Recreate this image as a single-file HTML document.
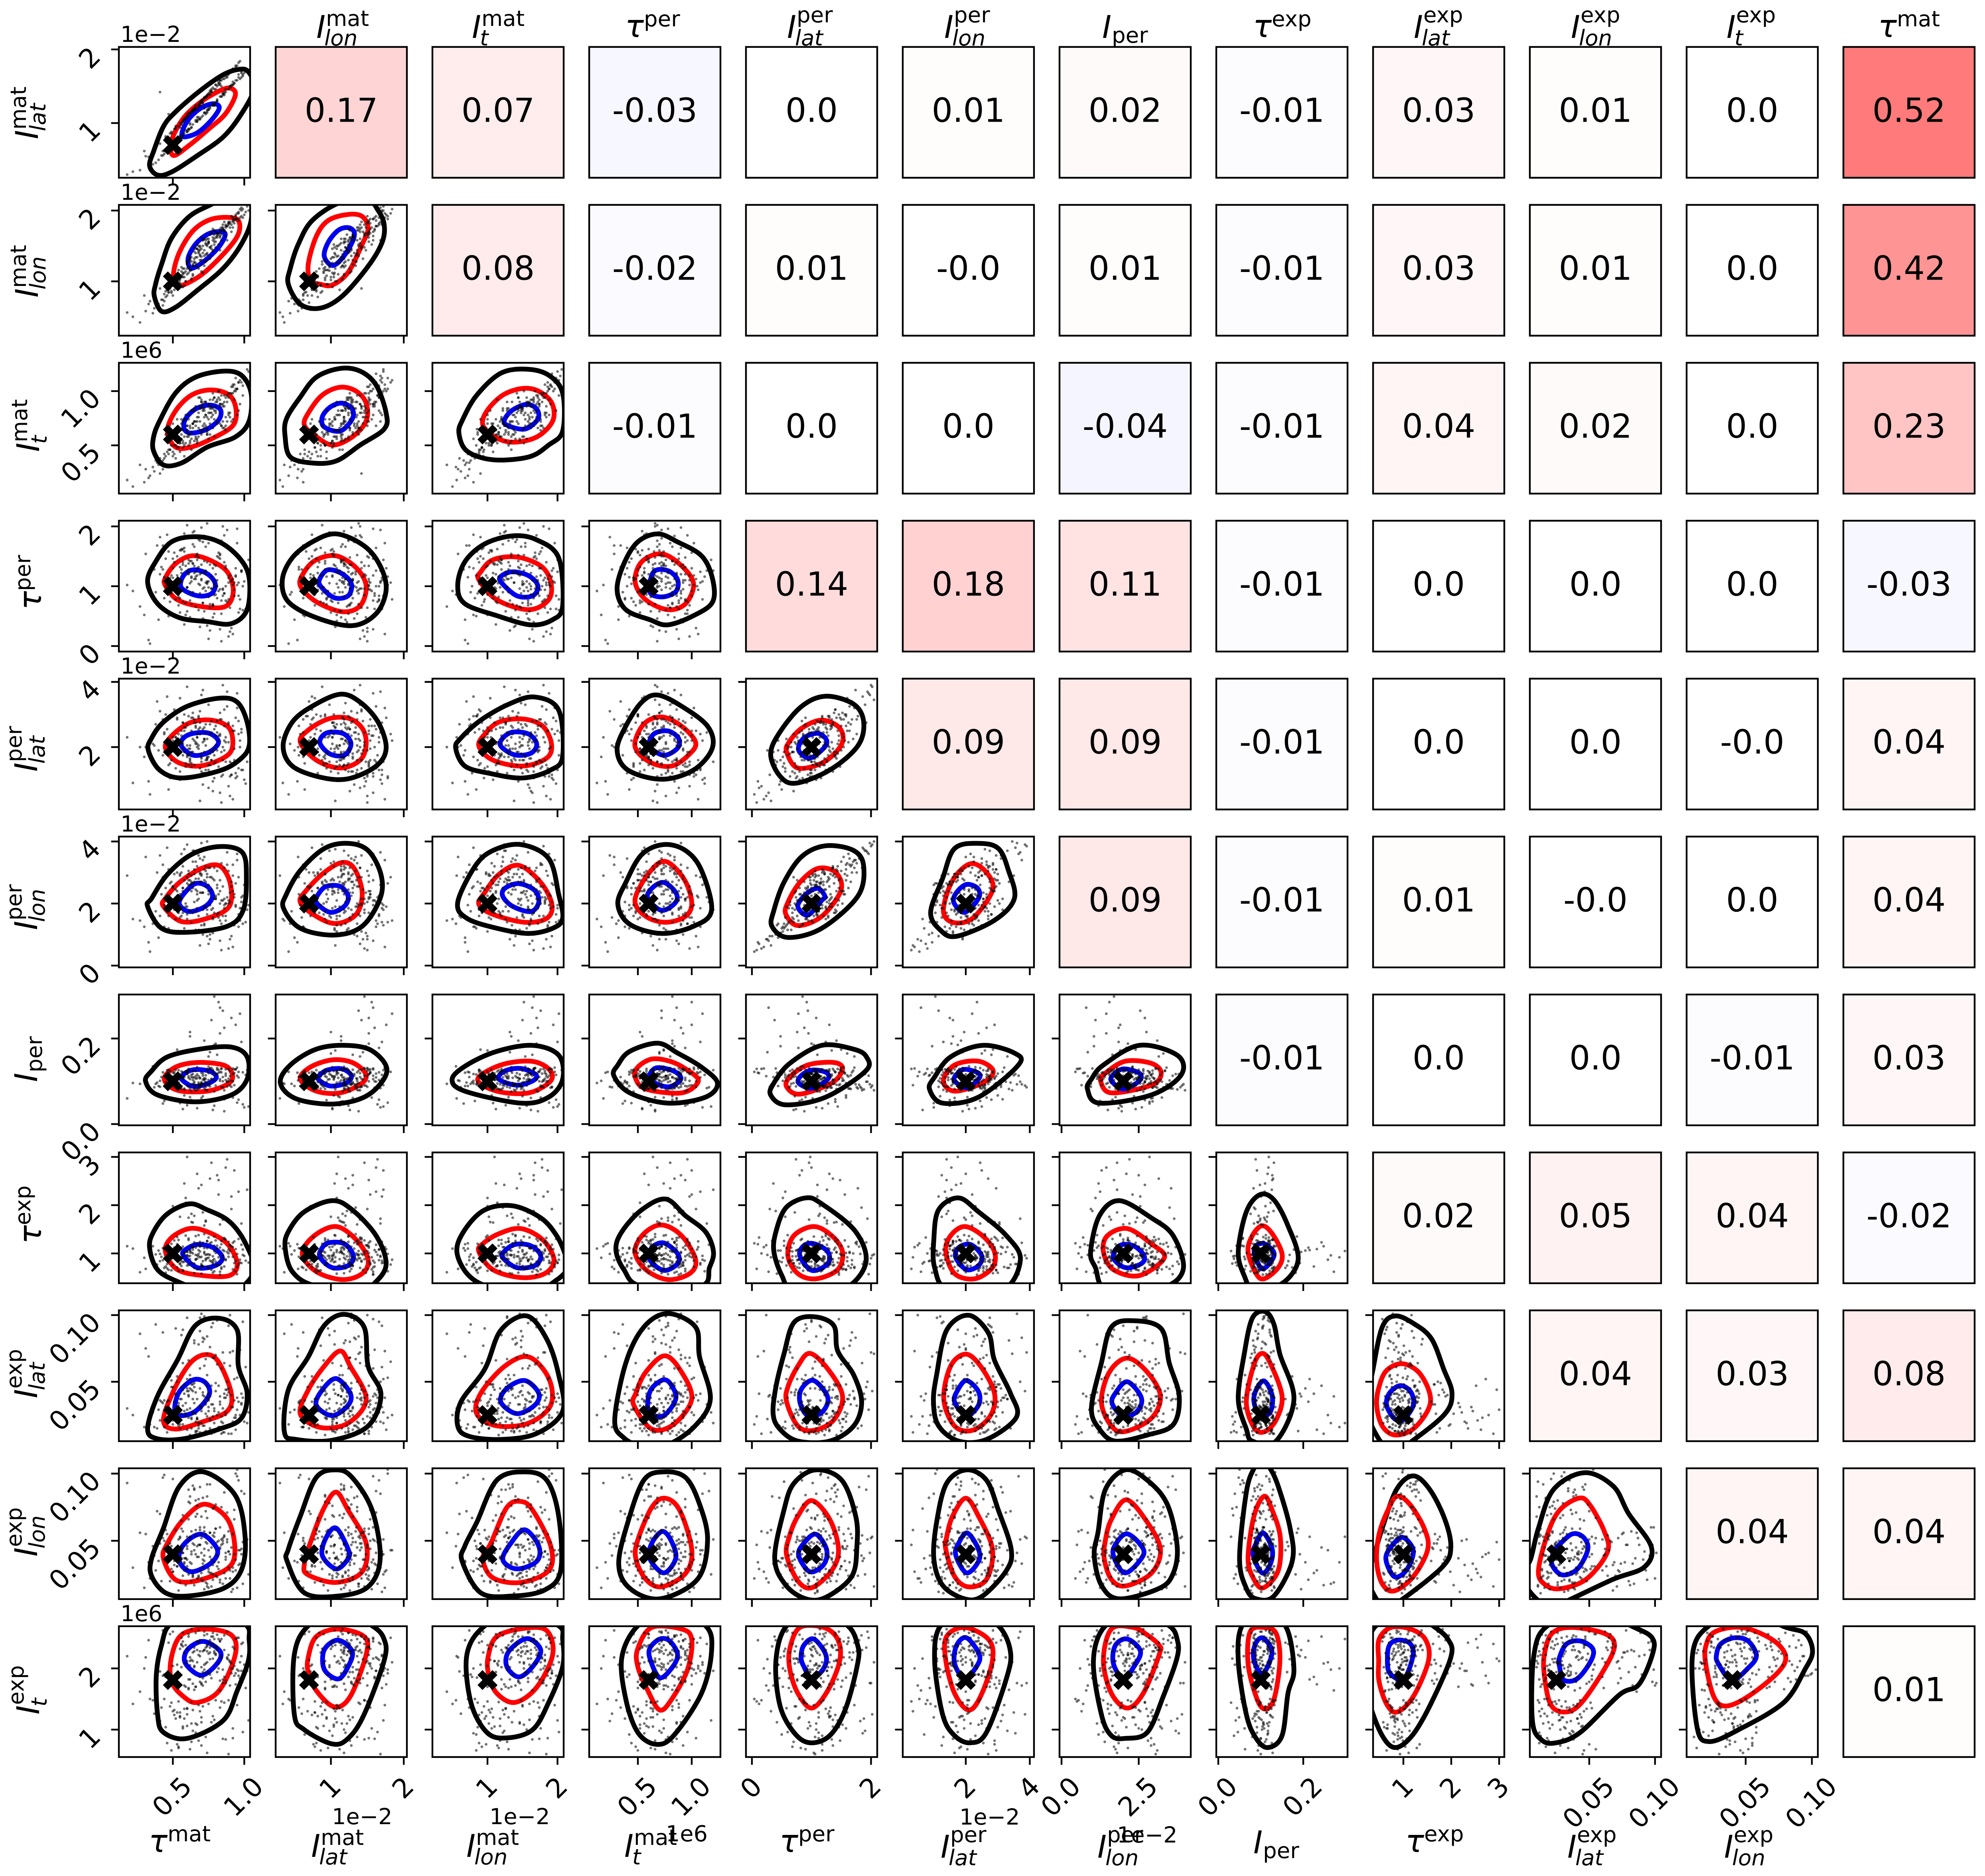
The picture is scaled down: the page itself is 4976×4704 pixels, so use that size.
<!DOCTYPE html>
<html lang="en">
<head>
<meta charset="utf-8">
<title>Posterior pair plot</title>
<style>
html,body{margin:0;padding:0;background:#fff}
svg{display:block}
text{font-family:"DejaVu Sans","Liberation Sans",sans-serif;fill:#000}
</style>
</head>
<body>
<svg id="chart" xmlns="http://www.w3.org/2000/svg" width="4976" height="4704" viewBox="0 0 4976 4704"></svg>
<script>
// Parameters of the grid, index 0..11
const parameterLabels = [
  ['τ','mat',''],['I','mat','lat'],['I','mat','lon'],['I','mat','t'],
  ['τ','per',''],['I','per','lat'],['I','per','lon'],['I','','per'],
  ['τ','exp',''],['I','exp','lat'],['I','exp','lon'],['I','exp','t']
];
const xLimits = [[.122,1.041],[.2415,2.043],[.2137,2.088],[.048,1.2667],[-.1,2.104],[.031,4.131],[-.065,4.186],[-.0047,.3042],[.367,3.108],[.00485,.1046],[.00542,.1045]];
const yLimits = [null,[.257,2.034],[.233,2.08],[.055,1.261],[-.092,2.095],[.087,4.1],[-.058,4.158],[-.0029,.3028],[.382,3.093],[.0054,.10356],[.0066,.10395],[.552,2.689]];
const xTickValues = [[.5,1],[1,2],[1,2],[.5,1],[0,2],[2,4],[0,2.5],[0,.2],[1,2,3],[.05,.1],[.05,.1]];
const xTickLabels = [['0.5','1.0'],['1','2'],['1','2'],['0.5','1.0'],['0','2'],['2','4'],['0.0','2.5'],['0.0','0.2'],['1','2','3'],['0.05','0.10'],['0.05','0.10']];
const yTickValues = [null,[1,2],[1,2],[.5,1],[0,1,2],[2,4],[0,2,4],[0,.2],[1,2,3],[.05,.1],[.05,.1],[1,2]];
const yTickLabels = [null,['1','2'],['1','2'],['0.5','1.0'],['0','1','2'],['2','4'],['0','2','4'],['0.0','0.2'],['1','2','3'],['0.05','0.10'],['0.05','0.10'],['1','2']];
const truthValues = [.5,.7,1,.6,1,2,2,.1,1,.025,.04,1.81];

// Printed correlations, rows 0..10, each row starts at column row+1
const correlationRows = [
  ['0.17','0.07','-0.03','0.0','0.01','0.02','-0.01','0.03','0.01','0.0','0.52'],
  ['0.08','-0.02','0.01','-0.0','0.01','-0.01','0.03','0.01','0.0','0.42'],
  ['-0.01','0.0','0.0','-0.04','-0.01','0.04','0.02','0.0','0.23'],
  ['0.14','0.18','0.11','-0.01','0.0','0.0','0.0','-0.03'],
  ['0.09','0.09','-0.01','0.0','0.0','-0.0','0.04'],
  ['0.09','-0.01','0.01','-0.0','0.0','0.04'],
  ['-0.01','0.0','0.0','-0.01','0.03'],
  ['0.02','0.05','0.04','-0.02'],
  ['0.04','0.03','0.08'],
  ['0.04','0.04'],
  ['0.01']
];

// Posterior samples, one array per parameter
const tauMat = [.62,.71,.55,.83,.47,.90,.66,.74,.58,.95,.69,.41,.78,.63,.86,.52,.73,.60,.99,.68,
.44,.81,.57,.76,.92,.65,.36,.70,.88,.54,.79,.61,.97,.50,.72,.84,.59,.67,.31,.75,
.93,.64,.48,.82,.56,.89,.70,.43,.77,.60,1.01,.66,.53,.85,.74,.39,.91,.63,.80,.57,
.69,.96,.46,.72,.87,.61,.51,.78,.65,.34,.83,.75,.94,.58,.68,.45,.76,.62,.90,.55,
.71,.98,.49,.81,.64,.27,.73,.86,.60,.67,.92,.56,.79,.42,.70,.84,.63,1.03,.52,.74,
.88,.59,.37,.77,.66,.81,.54,.95,.68,.47,.72,.61,.89,.75,.33,.65,.85,.58,.78,.70,
.50,.93,.64,.80,.40,.69,.87,.57,.73,.22,.96,.62,.83,.53,.76,.67,.91,.44,.71,.60,
.98,.55,.79,.86,.48,.74,.63,.18,.82,.69,.77,.93,.56,.68,.84,.61,.72,.99,.65,.51,
.80,.70,.89,.59,.75,.43,.66,1.00,.83,.54,.73,.95,.62,.78,.38,.67,.87,.71,.57,.92,
.64,.76,.49,.85,.69,.97,.60,.74,.82,.52,.90,.68,.79,.46,.72,.94,.63,.86,.56,.77,
.66,.88,.53,.75,.30,.81,.70,.96,.61,.84,.58,.73,.91,.45,.78,.65,1.02,.55,.69,.87,
.74,.50,.83,.62,.94,.71,.41,.79,.67,.89,.57,.76,.98,.64,.85,.47,.72,.92,.60,.80];
const iLatMat = [.98,1.28,.82,1.52,.66,1.50,1.20,1.14,1.05,1.74,1.05,.72,1.48,1.15,1.40,.92,1.12,1.12,1.66,1.26,
.58,1.30,1.04,1.44,1.52,1.20,.44,1.30,1.68,.78,1.26,1.14,1.84,.68,1.35,1.36,1.08,1.02,.55,1.40,
1.54,1.18,.86,1.56,.80,1.70,1.08,.56,1.46,.88,1.70,1.24,.74,1.60,1.38,.70,1.50,.94,1.52,.82,
1.28,1.62,.80,1.14,1.66,.90,.92,1.26,1.20,.42,1.58,1.18,1.76,1.06,1.05,.82,1.20,1.12,1.48,.78,
1.32,1.68,.88,1.30,1.16,.36,1.36,1.42,1.10,1.04,1.74,.82,1.46,.56,1.28,1.36,1.16,1.72,.96,1.18,
1.62,.90,.60,1.42,1.02,1.50,.78,1.78,1.24,.64,1.34,.92,1.66,1.18,.54,1.18,1.40,1.04,1.24,1.30,
.70,1.72,.98,1.52,.50,1.28,1.42,1.02,1.14,.34,1.82,.92,1.58,.76,1.42,1.02,1.70,.62,1.32,.90,
1.62,1.00,1.26,1.60,.64,1.38,.94,.30,1.52,1.06,1.44,1.54,1.00,1.08,1.58,.92,1.34,1.64,1.18,.74,
1.28,1.30,1.46,1.06,1.20,.62,1.22,1.68,1.36,.96,1.34,1.58,1.14,1.24,.46,1.18,1.62,1.10,1.02,1.52,
1.18,1.22,.86,1.38,1.24,1.60,1.08,1.16,1.54,.94,1.50,1.22,1.24,.74,1.14,1.78,1.16,1.38,.98,1.42,
1.04,1.64,.78,1.40,.62,1.32,1.28,1.66,1.10,1.50,.86,1.36,1.52,.80,1.26,1.18,1.72,.94,1.24,1.46,
1.36,.72,1.54,1.00,1.58,1.26,1.42,1.24,1.08,1.68,.84,1.38,1.70,1.16,1.40,1.12,1.20,1.56,.88,1.46];
const iLonMat = [1.15,1.58,.98,1.62,.85,1.82,1.22,1.30,1.12,1.96,1.48,.60,1.44,1.02,1.70,1.05,1.52,1.26,1.90,1.18,
.72,1.66,1.10,1.32,1.84,1.48,.55,1.62,1.58,.92,1.72,1.20,2.02,.80,1.28,1.76,1.00,1.46,.58,1.60,
1.88,1.08,.95,1.52,1.14,1.82,1.35,.66,1.68,1.24,1.98,1.40,.90,1.74,1.50,.70,1.92,1.16,1.56,1.06,
1.36,1.86,.88,1.44,1.80,1.12,1.02,1.62,1.28,.72,1.70,1.54,1.94,1.18,1.40,.78,1.48,1.30,1.76,1.04,
1.58,2.04,.86,1.64,1.22,.42,1.38,1.84,1.10,1.52,1.90,1.08,1.66,.74,1.46,1.72,1.34,2.00,.96,1.60,
1.78,1.14,.62,1.50,1.26,1.68,1.00,1.88,1.42,.84,1.36,1.20,1.82,1.56,.68,1.32,1.74,1.06,1.58,1.30,
.94,1.86,1.24,1.70,.68,1.44,1.76,1.12,1.54,.50,1.96,1.16,1.64,.98,1.48,1.34,1.80,.82,1.40,1.18,
1.92,1.02,1.60,1.72,.90,1.52,1.28,.56,1.66,1.38,1.70,1.82,1.06,1.50,1.58,1.30,1.22,2.02,1.42,.88,
1.62,1.24,1.80,1.00,1.56,.74,1.46,1.94,1.44,1.16,1.28,1.88,1.34,1.74,.76,1.20,1.78,1.50,.92,1.86,
1.10,1.66,.84,1.76,1.30,1.90,1.26,1.38,1.68,.96,1.84,1.44,1.52,.80,1.60,1.92,1.04,1.72,1.20,1.46,
1.34,1.78,.92,1.54,.80,1.62,1.14,1.98,1.36,1.66,.94,1.58,1.70,.86,1.42,1.26,2.06,1.08,1.50,1.64,
1.40,1.00,1.74,1.32,1.88,1.12,.90,1.56,1.46,1.84,1.18,1.36,2.00,1.22,1.80,.88,1.60,1.76,1.28,1.48];
const iTMat = [.68,.88,.52,.92,.65,.80,.72,.60,.74,1.02,.86,.38,.84,.56,.96,.50,.78,.62,1.05,.66,
.42,.90,.64,.70,.98,.82,.30,.86,.72,.48,.94,.58,1.10,.40,.76,.68,.78,.54,.28,.88,
.92,.70,.46,1.00,.60,.78,.90,.36,.80,.68,1.12,.56,.74,.86,.64,.34,1.04,.62,.90,.52,
.72,1.08,.44,.82,.94,.60,.50,.66,.84,.22,.88,.74,1.00,.58,.76,.40,.84,.66,.98,.54,
.68,1.14,.62,.92,.70,.32,.78,.86,.64,.52,1.06,.56,.82,.34,.90,.96,.46,1.18,.60,.76,
.90,.52,.26,.84,.68,.72,.58,1.02,.80,.42,.66,.74,.94,.86,.20,.72,.88,.50,.78,.62,
.44,1.00,.70,.82,.32,.94,.64,.54,.68,.12,1.08,.60,.86,.66,.80,.72,.98,.38,.84,.58,
1.16,.52,.74,.90,.46,.66,.82,.18,.94,.64,.76,1.06,.70,.58,.88,.50,.84,.96,.72,.42,
.80,.60,.98,.74,.56,.28,.86,1.10,.70,.62,.90,.78,.54,.92,.36,.76,.68,.82,.48,1.04,
.66,.92,.50,.72,.84,.88,.64,.60,1.00,.38,.76,.94,.58,.56,.70,1.12,.82,.66,.74,.86,
.58,.96,.48,.80,.16,.70,.92,.82,.78,.68,.40,.90,.72,.60,.98,.54,1.20,.44,.84,.76,
.62,.70,.88,.52,1.02,.64,.24,.94,.56,.80,.72,.60,1.08,.82,.66,.46,.90,.74,.68,.86];
const tauPer = [1.05,.72,1.32,.95,1.58,.64,1.12,1.40,.36,1.72,.88,1.20,.48,1.08,1.85,.90,1.26,.58,1.00,1.48,
1.15,.80,1.36,.26,1.02,1.66,.86,1.22,1.94,.68,1.10,1.44,.78,1.30,.98,1.76,.52,1.18,1.54,.12,
1.06,1.38,.74,.92,1.62,1.14,.42,1.28,.96,2.02,.62,1.24,1.50,.84,1.08,1.68,.30,1.16,1.34,.94,
1.80,.56,1.04,1.42,.76,1.20,1.56,.70,1.12,.04,1.46,.82,1.30,1.88,.60,1.00,1.36,.90,1.18,1.60,
.46,1.26,.88,1.10,1.70,.66,1.06,1.40,.98,1.52,.20,1.22,.85,1.32,1.98,.54,1.14,1.44,.92,1.04,
1.64,.72,1.28,.38,1.16,1.50,.86,1.02,1.78,.50,1.24,1.38,.78,1.08,.10,1.34,.96,1.58,.68,1.12,
1.46,.84,1.90,1.00,.44,1.20,1.30,.74,1.66,.92,1.06,1.42,.28,1.18,.64,1.54,1.10,.80,1.74,.98,
1.26,.56,1.36,.88,1.14,2.05,.70,1.02,1.48,.32,1.16,.94,1.60,1.04,.76,1.28,1.84,.60,1.22,1.40,
.86,1.10,.16,1.34,.98,1.68,.66,1.08,1.52,.82,1.20,1.96,.48,1.30,.90,1.44,1.00,.72,1.62,1.12,
1.38,.40,1.18,.94,1.76,.62,1.24,1.06,1.56,.78,.24,1.32,1.04,1.86,.58,1.16,1.42,.88,1.28,.96,
1.50,.74,1.12,1.72,.52,1.00,1.36,.84,1.22,.08,1.64,.92,1.08,1.46,.68,1.92,1.26,.80,1.02,1.34,
.34,1.14,1.54,.76,1.18,.96,1.82,.54,1.30,1.06,1.40,.70,1.24,.90,2.00,1.10,.44,1.58,.98,1.20];
const iLatPer = [1.55,2.15,1.85,2.40,2.95,1.10,2.60,1.70,1.85,3.20,1.35,2.70,.95,2.50,2.20,2.30,1.60,2.05,1.30,2.90,
2.40,1.25,2.75,1.90,1.45,3.35,2.10,1.65,3.70,1.85,2.55,1.80,2.20,2.95,1.20,2.85,1.40,2.30,2.00,.75,
1.95,3.05,1.05,2.35,2.15,2.75,1.55,1.75,2.45,3.85,.88,2.10,2.85,1.60,2.25,3.40,1.15,1.50,2.65,1.95,
3.10,1.35,2.55,1.85,2.30,1.45,3.00,.65,2.20,.55,2.35,1.70,2.90,2.60,1.95,1.20,2.70,2.05,1.55,3.50,
.85,2.45,1.60,2.80,2.25,2.00,1.30,3.15,1.75,2.40,.40,2.15,1.05,2.65,3.60,1.85,1.40,2.50,2.30,1.65,
3.25,1.50,2.05,1.60,2.75,1.90,2.40,1.10,2.95,.70,2.60,1.75,2.15,1.45,.95,2.85,2.00,3.00,1.25,1.80,
2.20,2.50,3.30,1.55,1.90,2.75,1.35,2.10,2.70,.90,2.40,1.65,.60,2.90,1.80,2.30,1.15,2.45,3.75,1.70,
2.55,1.25,1.95,2.65,1.50,3.45,1.85,2.30,1.40,.35,2.80,1.60,2.50,2.05,1.10,2.95,2.25,1.75,1.45,3.15,
2.35,1.70,.80,2.60,1.30,2.85,2.15,1.00,3.05,1.80,2.45,3.65,1.60,1.90,2.70,2.10,1.55,1.20,2.75,2.50,
1.85,1.45,2.95,1.15,2.40,2.00,2.70,1.65,2.20,1.35,.50,2.55,1.75,3.55,2.25,1.05,2.90,1.90,2.35,1.60,
2.65,1.40,2.10,3.30,1.70,2.45,1.25,2.80,1.95,.30,2.50,2.05,1.50,3.00,1.85,2.75,1.55,1.00,2.60,2.15,
1.60,2.30,2.85,1.95,1.20,2.55,3.10,1.50,2.00,2.70,1.75,2.40,1.30,2.90,3.90,1.45,2.20,2.65,1.10,2.05];
const iLonPer = [2.60,1.80,2.95,1.45,3.10,2.05,1.75,2.85,1.20,3.40,2.35,1.60,1.05,2.90,3.15,1.50,2.70,1.90,2.25,2.80,
1.95,2.50,3.20,.85,2.40,2.70,1.35,2.95,3.65,1.70,2.15,3.05,1.45,2.55,2.75,3.30,1.10,1.85,3.50,.70,
2.30,2.65,1.95,1.55,3.60,2.00,1.30,2.85,1.80,3.90,1.40,2.45,2.40,2.10,1.65,3.00,.95,2.70,2.20,2.50,
3.45,1.25,1.85,3.10,1.60,2.60,2.95,1.50,2.05,.45,2.75,2.30,1.90,3.75,1.15,2.50,3.15,1.75,2.35,2.90,
1.00,2.20,2.70,1.65,3.35,1.45,2.55,2.15,2.85,2.40,.60,3.00,1.70,2.30,3.95,1.35,2.65,1.95,2.45,1.80,
3.25,2.00,1.55,1.10,2.80,3.05,2.25,1.40,3.55,1.20,1.90,2.95,2.10,2.60,.75,3.10,1.60,2.75,1.85,2.35,
2.50,1.30,3.70,2.15,.90,2.70,2.00,2.40,3.20,1.50,2.85,1.75,.80,3.00,1.95,2.30,2.55,1.25,3.40,1.65,
2.05,1.55,3.15,1.85,2.65,4.00,1.40,2.90,1.70,.65,2.45,2.20,3.30,1.60,2.10,2.75,3.50,1.35,2.95,1.80,
2.25,2.70,.55,1.90,2.40,3.25,1.15,2.60,2.00,2.15,3.05,3.60,1.05,2.80,1.75,3.20,1.45,2.35,2.50,2.90,
1.70,1.00,3.10,2.55,3.00,1.85,1.50,2.95,2.30,2.05,.85,2.15,2.75,3.80,1.30,2.65,2.40,1.95,1.60,2.85,
3.35,2.20,1.75,3.15,1.25,2.60,2.90,1.65,2.45,.50,3.45,1.90,2.70,2.10,1.55,3.70,1.80,2.30,2.95,2.00,
.95,2.55,2.40,2.75,1.95,2.35,3.55,1.20,2.10,3.05,1.70,2.85,1.85,2.50,3.85,1.60,1.35,3.25,2.65,2.15];
const lPer = [.105,.118,.085,.212,.096,.124,.091,.052,.110,.132,.088,.101,.182,.115,.079,.127,.098,.044,.121,.093,
.089,.127,.104,.168,.117,.082,.135,.061,.099,.113,.076,.129,.258,.095,.107,.086,.123,.037,.102,.119,
.128,.094,.111,.285,.083,.106,.120,.048,.131,.090,.115,.078,.174,.100,.125,.097,.087,.056,.116,.108,
.092,.109,.126,.195,.103,.087,.118,.033,.095,.122,.105,.134,.232,.081,.112,.098,.129,.063,.090,.114,
.113,.084,.100,.162,.125,.094,.080,.058,.119,.107,.130,.088,.298,.110,.093,.121,.076,.041,.104,.128,
.099,.123,.086,.243,.112,.131,.097,.050,.083,.116,.092,.125,.178,.103,.120,.085,.110,.067,.127,.095,
.120,.091,.117,.188,.089,.108,.128,.035,.114,.096,.122,.082,.272,.106,.088,.133,.101,.054,.093,.118,
.086,.115,.102,.225,.124,.079,.110,.060,.127,.091,.104,.119,.165,.097,.130,.112,.084,.046,.109,.122,
.116,.098,.129,.172,.090,.121,.106,.039,.101,.126,.087,.113,.205,.124,.094,.081,.118,.065,.111,.100,
.103,.130,.093,.265,.107,.085,.125,.053,.120,.098,.112,.089,.185,.117,.102,.128,.092,.030,.123,.106,
.124,.088,.114,.158,.101,.117,.095,.057,.108,.129,.083,.106,.248,.091,.119,.099,.126,.049,.085,.113,
.094,.111,.122,.215,.128,.104,.087,.043,.116,.100,.121,.096,.192,.109,.086,.127,.105,.062,.118,.090];
const tauExp = [.95,1.85,.78,1.12,.66,1.05,.88,1.25,2.45,.72,1.18,.84,.60,1.02,1.30,.91,1.68,.75,1.08,.99,
1.10,2.62,.82,.97,1.22,.70,1.15,.93,1.72,1.04,.63,1.28,.87,.76,1.00,1.19,2.15,.89,.68,1.33,
.80,1.64,1.06,.92,.74,1.24,.58,1.11,2.88,.96,.85,1.36,.71,1.07,.90,.77,1.92,1.16,1.01,.65,
1.14,2.28,.69,1.03,.86,.94,1.27,.79,1.78,1.21,.56,.98,1.09,.83,1.38,.73,2.55,.88,1.17,.92,
.84,1.62,1.20,.75,1.00,.61,.97,1.32,3.00,.67,1.13,.89,1.05,.93,.78,1.26,1.82,.81,.95,1.11,
1.03,2.05,.72,1.23,.87,1.16,.64,.99,2.35,.82,1.40,.76,1.08,.91,1.19,.59,1.70,1.01,.86,.74,
.90,2.72,1.13,.83,1.06,.68,1.29,.94,1.66,1.10,.77,1.02,.62,1.34,.85,.96,2.18,.70,1.22,1.04,
1.18,1.76,.88,.73,1.09,.98,.80,1.15,2.52,.92,.66,1.25,.84,1.07,.71,1.31,1.95,.97,.79,1.12,
.76,2.42,1.00,1.37,.69,.86,1.12,.95,1.60,1.28,.89,.57,1.06,.82,.98,1.20,2.78,.74,1.14,.93,
1.08,1.88,.65,.96,1.24,.81,1.03,.72,2.22,.87,1.17,.94,1.35,.78,1.11,.63,1.65,1.05,.90,.83,
.97,2.95,1.19,.70,.91,1.10,.75,1.30,1.74,.68,1.01,.86,1.15,.60,.94,1.23,2.32,.79,1.04,.88,
1.26,1.98,.77,1.07,.85,.73,.99,1.16,2.65,.93,.64,1.21,.80,1.13,.90,1.02,1.58,.67,.96,1.27];
const iLatExp = [.030,.042,.018,.035,.024,.072,.012,.047,.028,.038,.088,.021,.033,.015,.064,.040,.026,.052,.095,.019,
.036,.014,.044,.022,.031,.081,.027,.010,.050,.017,.068,.039,.025,.046,.099,.020,.034,.013,.075,.041,
.023,.048,.029,.016,.037,.092,.019,.034,.011,.043,.061,.026,.054,.030,.084,.015,.040,.022,.070,.032,
.045,.020,.012,.039,.027,.066,.035,.024,.049,.018,.097,.031,.014,.041,.078,.028,.021,.055,.062,.037,
.017,.033,.051,.025,.043,.086,.013,.038,.029,.022,.073,.046,.019,.035,.101,.011,.044,.027,.090,.024,
.040,.026,.016,.047,.020,.063,.032,.053,.015,.036,.082,.023,.042,.028,.069,.034,.012,.048,.094,.030,
.021,.052,.037,.013,.029,.098,.044,.018,.033,.025,.065,.010,.039,.050,.076,.022,.031,.016,.083,.045,
.034,.015,.028,.041,.054,.071,.023,.030,.047,.012,.091,.036,.026,.019,.060,.043,.017,.038,.079,.027,
.049,.031,.011,.024,.036,.087,.042,.020,.016,.034,.067,.029,.045,.013,.093,.037,.025,.040,.064,.018,
.026,.039,.046,.019,.032,.074,.014,.055,.027,.041,.100,.017,.030,.035,.062,.023,.048,.012,.085,.033,
.013,.044,.022,.037,.016,.096,.028,.035,.040,.024,.077,.050,.011,.031,.068,.046,.019,.029,.060,.038,
.038,.018,.033,.052,.025,.080,.036,.012,.023,.045,.089,.015,.041,.027,.072,.030,.035,.020,.098,.043];
const iLonExp = [.078,.036,.052,.021,.044,.028,.058,.092,.033,.015,.047,.070,.025,.040,.054,.084,.019,.031,.049,.038,
.099,.023,.041,.056,.030,.017,.046,.068,.051,.035,.013,.088,.043,.027,.060,.075,.037,.022,.055,.029,
.066,.048,.020,.034,.059,.042,.026,.097,.016,.053,.039,.080,.031,.050,.018,.072,.045,.057,.024,.041,
.090,.032,.055,.014,.038,.050,.035,.074,.043,.022,.060,.101,.028,.037,.047,.067,.026,.052,.040,.019,
.082,.044,.029,.049,.023,.056,.011,.086,.036,.046,.027,.065,.053,.020,.041,.094,.033,.025,.058,.048,
.071,.017,.039,.045,.054,.031,.051,.103,.024,.037,.057,.079,.042,.015,.034,.089,.048,.028,.021,.052,
.096,.040,.025,.059,.035,.047,.022,.069,.055,.030,.043,.083,.019,.038,.056,.076,.012,.050,.033,.044,
.087,.053,.034,.026,.048,.016,.042,.093,.029,.058,.036,.073,.046,.023,.051,.066,.039,.018,.047,.032,
.077,.021,.057,.037,.027,.052,.040,.085,.045,.013,.049,.098,.034,.054,.028,.070,.041,.030,.024,.055,
.091,.038,.046,.018,.060,.033,.029,.067,.050,.041,.022,.081,.056,.035,.044,.100,.020,.053,.037,.026,
.068,.049,.031,.043,.015,.039,.055,.095,.025,.047,.034,.072,.017,.058,.032,.088,.051,.042,.028,.036,
.083,.027,.044,.053,.036,.020,.048,.075,.038,.030,.057,.092,.040,.024,.052,.069,.035,.014,.046,.059];
const iTExp = [2.05,2.28,1.22,2.45,1.85,2.12,.95,2.38,1.72,1.40,2.20,1.95,2.52,1.10,2.30,1.78,2.08,1.35,2.42,.82,
1.90,2.55,1.05,2.15,2.35,1.65,1.48,2.02,2.60,.72,2.25,1.82,2.10,1.30,1.98,2.48,1.70,.90,2.18,1.42,
2.32,1.75,1.38,2.00,2.50,2.22,1.12,1.88,2.40,1.25,1.68,2.58,2.06,.85,2.28,2.14,1.92,1.45,2.36,1.02,
2.46,1.96,.78,2.30,1.80,2.56,1.32,2.16,2.04,1.50,2.44,2.24,1.74,1.18,2.62,1.86,2.34,.68,2.10,1.28,
1.84,2.40,1.44,1.94,2.26,1.62,.88,2.54,2.12,1.08,2.00,2.38,2.48,1.36,1.76,2.20,2.64,1.15,1.90,.62,
2.18,2.08,1.26,2.52,1.70,2.34,1.46,1.98,2.42,.92,2.30,1.66,2.14,1.00,2.46,2.02,1.82,1.34,2.58,1.20,
2.60,1.88,.98,2.22,2.06,1.78,1.20,2.36,1.92,1.42,2.50,2.12,1.64,.76,2.26,2.44,2.00,1.50,1.72,1.06,
1.96,2.32,1.16,1.86,2.56,2.10,.80,2.20,2.48,1.30,1.84,2.04,2.40,1.40,2.16,1.68,2.54,.96,2.28,1.24,
2.24,1.74,1.48,2.38,1.94,2.62,1.10,2.06,1.80,.70,2.34,2.50,2.18,1.22,1.90,2.30,1.76,1.38,2.44,.86,
2.12,2.46,.66,1.98,2.28,1.84,1.34,2.56,2.08,1.18,1.72,2.22,2.36,.94,2.60,1.92,2.14,1.44,2.02,1.12,
1.70,2.16,1.28,2.42,2.00,2.30,.74,1.88,2.52,1.46,2.26,1.78,2.08,1.04,2.40,2.34,1.96,1.20,1.86,.84,
2.36,2.04,1.36,1.82,2.48,1.94,1.14,2.28,2.10,.60,2.58,1.90,2.20,1.32,1.76,2.42,2.06,1.02,2.32,1.48];
const sampleColumns = [tauMat,iLatMat,iLonMat,iTMat,tauPer,iLatPer,iLonPer,lPer,tauExp,iLatExp,iLonExp,iTExp];

// Density contours in data units: flat x,y lists keyed by "row-col"
const outerContours = {
"0-0":[.337,.418,.393,.294,.49,.334,.672,.559,.853,.812,.979,1.122,1.07,1.471,1.029,1.696,.965,1.73,.853,1.657,.686,1.432,.518,1.15,.434,.953,.365,.615],
"1-0":[.37,.791,.421,.577,.518,.633,.672,.875,.853,1.185,.979,1.523,1.048,1.86,1.034,2.17,.909,2.226,.769,2.086,.616,1.917,.49,1.607,.421,1.241,.379,.96],
"1-1":[.415,.96,.58,.678,.854,.622,1.155,.791,1.511,1.213,1.703,1.551,1.731,1.804,1.648,2.001,1.511,2.142,1.128,2.114,.744,1.86,.552,1.523,.443,1.185],
"2-0":[.365,.448,.434,.319,.56,.337,.741,.484,.937,.577,1.034,.724,1.048,.981,.979,1.147,.853,1.184,.658,1.128,.518,.981,.407,.724,.365,.577],
"2-1":[.372,.577,.443,.393,.744,.337,1.073,.356,1.402,.503,1.731,.65,1.758,.797,1.621,1.055,1.402,1.184,1.128,1.209,.799,1.128,.58,.945,.388,.742],
"2-2":[.592,.613,.706,.448,1.076,.367,1.589,.393,1.874,.503,2.074,.632,2.074,.981,1.874,1.147,1.561,1.202,1.19,1.165,.848,.963,.649,.742],
"3-0":[.323,1.075,.393,.708,.546,.474,.741,.408,.909,.374,1.02,.608,1.034,1.141,.965,1.475,.825,1.741,.658,1.828,.49,1.741,.379,1.408],
"3-1":[.333,1.108,.415,.741,.799,.474,1.292,.341,1.621,.541,1.758,.941,1.676,1.341,1.456,1.675,1.073,1.875,.744,1.741,.47,1.475],
"3-2":[.575,1.008,.677,.708,1.133,.508,1.618,.354,1.931,.441,2.074,.674,2.017,1.475,1.703,1.775,1.361,1.842,.962,1.708,.677,1.408],
"3-3":[.307,.941,.388,.608,.61,.441,.777,.354,1.017,.508,1.195,.741,1.191,1.141,1.091,1.508,.869,1.741,.684,1.875,.499,1.741,.37,1.375],
"4-0":[.328,1.909,.407,1.297,.56,1.052,.825,1.272,.965,1.603,1.034,2.031,1.02,2.766,.951,3.378,.825,3.5,.602,3.255,.434,2.766,.351,2.276],
"4-1":[.344,2.031,.47,1.419,.854,1.077,1.237,1.028,1.621,1.419,1.758,1.97,1.648,2.766,1.402,3.378,1.128,3.623,.744,3.255,.47,2.766],
"4-2":[.546,1.97,.677,1.419,1.019,1.199,1.504,1.052,1.903,1.297,2.074,1.725,2.017,3.133,1.675,3.537,1.304,3.317,.905,2.827,.62,2.276],
"4-3":[.307,1.909,.407,1.297,.721,1.015,1.017,1.297,1.191,1.97,1.147,2.643,.906,3.255,.684,3.598,.536,3.378,.388,2.643],
"4-4":[.315,1.787,.47,1.113,.738,.893,1.307,1.297,1.776,2.031,1.877,2.766,1.709,3.317,1.24,3.562,.838,3.255,.47,2.46],
"5-0":[.323,1.909,.421,1.203,.602,1.074,.881,1.267,.992,1.781,1.015,2.809,.987,3.644,.825,3.837,.63,3.58,.462,2.937,.351,2.166],
"5-1":[.35,1.845,.58,1.203,1.046,.984,1.429,1.267,1.676,2.166,1.687,2.937,1.511,3.708,1.237,3.94,.909,3.773,.58,3.066,.388,2.295],
"5-2":[.575,2.038,.706,1.524,1.133,1.203,1.589,1.036,1.931,1.203,2.074,1.524,2.017,2.295,1.874,3.451,1.475,3.901,1.076,3.708,.82,3.194],
"5-3":[.314,1.974,.425,1.331,.721,1.036,1.017,1.267,1.184,1.781,1.091,3.066,.943,3.708,.74,3.901,.536,3.58,.388,2.68],
"5-4":[.336,1.267,.604,.907,1.173,1.203,1.776,2.23,1.877,3.194,1.709,3.708,1.24,3.862,.838,3.516,.537,2.68,.369,1.781],
"5-5":[.902,1.716,1.214,1.138,1.713,.945,2.896,1.46,3.519,2.166,3.333,3.066,3.02,3.773,2.398,3.94,1.65,3.773,1.276,2.809],
"6-0":[.309,.1,.393,.068,.658,.052,.909,.068,1.02,.105,1.02,.157,.909,.18,.686,.175,.462,.157,.351,.124],
"6-1":[.306,.096,.525,.059,1.046,.047,1.511,.068,1.769,.124,1.566,.171,1.21,.184,.799,.175,.443,.138],
"6-2":[.495,.105,.677,.077,1.475,.049,1.874,.063,2.074,.105,2.017,.161,1.646,.184,1.133,.17,.706,.138],
"6-3":[.277,.113,.425,.073,.777,.049,1.128,.063,1.239,.096,1.091,.133,.869,.166,.684,.189,.425,.17,.314,.138],
"6-4":[.315,.068,.57,.045,1.24,.063,1.91,.124,1.923,.157,1.709,.175,1.173,.184,.637,.142,.369,.096],
"6-5":[.866,.082,1.276,.049,2.398,.063,3.644,.138,3.519,.166,2.523,.184,1.526,.157,1.027,.11],
"6-6":[.84,.082,1.227,.049,2.907,.068,3.876,.115,3.747,.161,2.519,.184,1.356,.138,.969,.105],
"7-0":[.337,1.119,.393,.664,.54,.408,.764,.186,.973,.289,1.085,.698,1.057,.904,.979,1.367,.881,1.697,.741,1.904,.616,2.028,.462,1.821,.365,1.449],
"7-1":[.372,1.119,.47,.623,.772,.334,1.402,.252,1.621,.417,1.758,.789,1.621,1.367,1.292,1.904,1.018,2.094,.634,1.862,.415,1.449],
"7-2":[.563,1.036,.734,.541,1.076,.293,1.703,.252,1.988,.45,2.148,.697,2.119,.945,1.988,1.367,1.76,1.738,1.361,1.986,.962,1.904,.677,1.491],
"7-3":[.296,1.077,.37,.665,.529,.325,1.084,.325,1.165,.706,1.202,1.036,1.128,1.449,.943,1.78,.758,2.127,.536,1.904,.351,1.449],
"7-4":[.369,1.036,.503,.541,.704,.243,1.508,.243,1.91,.789,1.743,1.449,1.173,2.028,.905,2.151,.57,1.945,.403,1.449],
"7-5":[1.002,1.284,1.027,.706,1.463,.243,3.145,.243,3.706,.871,3.27,1.367,2.398,1.862,1.775,2.151,1.151,1.904],
"7-6":[.943,1.036,1.098,.706,1.485,.243,3.23,.285,3.94,.665,3.617,1.367,2.907,1.738,1.873,2.094,1.227,1.78],
"7-7":[.047,1.036,.061,.541,.084,.252,.15,.376,.188,.871,.164,1.573,.131,2.11,.098,2.218,.066,1.862],
"8-0":[.323,.0145,.393,.0072,.574,.0072,.825,.0145,.979,.0225,1.02,.0414,.959,.0617,.951,.0886,.825,.0976,.658,.0922,.532,.0662,.393,.0393],
"8-1":[.361,.0124,.525,.0067,1.018,.0061,1.511,.0168,1.687,.0405,1.511,.0617,1.456,.091,1.183,.1006,.909,.0922,.689,.0686,.415,.0438],
"8-2":[.575,.0169,.734,.0091,1.19,.0067,1.703,.0112,2.074,.0279,2.017,.0551,1.846,.082,1.561,.0994,1.19,.0886,.962,.0596,.62,.0348],
"8-3":[.285,.0213,.37,.0079,.529,.0019,.751,.0019,1.017,.0157,1.173,.0369,1.073,.0686,1.036,.091,.777,.1012,.555,.091,.388,.0641],
"8-4":[.356,.0258,.47,.0144,.771,.0055,1.307,.0055,1.709,.0168,1.843,.0348,1.709,.0551,1.441,.0731,1.374,.0922,1.039,.0988,.704,.0943,.537,.0707,.403,.0462],
"8-5":[.99,.0348,1.151,.0169,1.775,.0055,2.647,.0067,3.581,.0234,3.394,.0414,2.896,.0662,2.709,.0865,2.086,.0999,1.401,.0886,1.089,.0551],
"8-6":[.969,.0303,1.227,.0145,1.744,.0055,2.777,.01,3.617,.0178,3.811,.0393,3.488,.0641,3.23,.0898,2.325,.0958,1.615,.091,1.292,.0641],
"8-7":[.047,.0369,.066,.0145,.08,.0055,.136,.0055,.178,.0369,.145,.0707,.131,.0931,.11,.1027,.08,.0976,.061,.0707],
"8-8":[.242,.0324,.367,.0596,.559,.0910,.833,.0994,1.242,.0931,1.591,.0820,1.841,.0596,2.016,.0414,1.866,.0258,1.183,.0055,.775,-.0034,.4,.0124],
"9-0":[.351,.0238,.448,.0113,.602,.0089,.853,.0145,.979,.028,1.006,.0526,.937,.0838,.713,.1013,.546,.0906,.434,.0594,.351,.0368],
"9-1":[.399,.0348,.635,.0113,1.1,.0089,1.511,.0158,1.676,.0368,1.566,.0727,1.292,.0971,1.073,.1028,.799,.0971,.58,.0683,.415,.0436],
"9-2":[.638,.0348,.905,.0113,1.361,.0089,1.817,.0134,2.045,.0279,2.017,.0683,1.846,.0951,1.532,.1013,1.133,.0951,.848,.0638,.677,.0461],
"9-3":[.322,.0327,.425,.0146,.703,.0068,1.054,.0214,1.147,.0505,1.073,.0772,.943,.0971,.74,.1013,.555,.0951,.407,.0638],
"9-4":[.382,.0368,.57,.0169,.905,.0068,1.24,.0079,1.676,.0235,1.763,.0461,1.743,.0683,1.508,.0951,1.073,.1028,.704,.0927,.537,.0727],
"9-5":[1.002,.0368,1.276,.0169,1.962,.0068,2.523,.0089,3.27,.0279,3.42,.0436,3.02,.0727,2.647,.0951,2.024,.1028,1.401,.0927,1.089,.0638],
"9-6":[1.059,.0392,1.292,.0169,1.873,.0068,3.165,.0146,3.617,.0258,3.746,.0461,3.423,.0773,2.777,.0951,2.067,.1028,1.421,.0882,1.188,.0571],
"9-7":[.05,.0368,.066,.0146,.089,.0068,.131,.0089,.174,.0348,.169,.0594,.141,.0906,.122,.1039,.103,.1114,.084,.1039,.066,.0861],
"9-8":[.367,.0368,.559,.0594,.858,.0882,1.208,.0983,1.55,.0882,1.867,.0659,1.991,.0449,1.808,.0303,.992,.0068,.617,-.0001,.325,.0139,.242,.0267],
"9-9":[.0056,.0368,.0114,.0594,.0229,.0882,.0465,.1007,.0683,.0906,.0798,.0704,.0971,.0457,.0917,.0303,.0683,.0214,.0365,.0068,.0202,-.0001,.0035,.0139,.0005,.0267],
"10-0":[.49,2.741,.42,2.376,.384,1.887,.393,1.248,.434,.955,.602,.857,.853,1.15,.951,1.639,1.029,2.128,1.034,2.474,1.006,2.722,.75,3.015],
"10-1":[.689,2.696,.498,2.226,.498,1.248,.635,.998,1.018,.766,1.237,.857,1.456,1.248,1.731,2.128,1.731,2.474,1.566,2.696,1.117,2.95],
"10-2":[.962,2.696,.706,2.226,.763,1.444,.991,.955,1.276,.864,1.646,1.0,1.874,1.444,2.074,2.03,2.074,2.474,2.017,2.696,1.492,2.95],
"10-3":[.499,2.696,.351,2.18,.388,1.496,.499,.955,.666,.76,.832,.902,1.091,1.594,1.184,2.278,1.128,2.696,.788,2.95],
"10-4":[.583,2.696,.403,2.128,.47,1.398,.704,.955,.972,.785,1.307,.902,1.575,1.346,1.776,2.082,1.776,2.376,1.609,2.696,1.106,2.917],
"10-5":[1.214,2.696,1.027,2.128,1.276,1.248,1.65,.902,2.149,.785,2.647,.955,3.27,1.835,3.394,2.278,3.02,2.696,2.149,2.917],
"10-6":[1.421,2.696,1.033,2.128,1.292,1.248,1.615,.902,2.067,.857,2.777,.955,3.294,1.541,3.746,2.18,3.746,2.474,3.488,2.696,2.519,2.917],
"10-7":[.056,2.696,.047,2.128,.066,1.248,.089,.857,.117,.707,.15,.902,.164,1.594,.178,1.985,.16,2.669,.108,2.917],
"10-8":[.267,2.428,.242,1.841,.3,1.418,.559,.902,.833,.707,1.183,.902,1.558,1.398,1.991,2.18,1.933,2.474,1.617,2.696,1.117,2.95,.492,2.741],
"10-9":[.0183,2.696,.0080,2.226,.0068,1.15,.0138,.831,.0250,.785,.0432,.955,.0729,1.568,.0877,1.737,.0980,2.226,.0980,2.493,.0844,2.669,.0505,2.95],
"10-10":[.0223,2.696,.0099,2.226,.0132,1.053,.0223,.805,.0448,1.0,.0788,1.444,.0948,1.985,.1005,2.278,.0948,2.572,.0788,2.683,.0505,2.95]
};
const middleContours = {
"0-0":[.504,.559,.616,.7,.755,.925,.867,1.122,.937,1.375,.909,1.471,.839,1.448,.699,1.291,.574,1.066,.490,.756],
"1-0":[.532,.931,.686,1.072,.839,1.354,.951,1.635,.965,1.832,.909,1.9,.769,1.877,.644,1.72,.546,1.41,.504,1.1],
"1-1":[.722,1.01,.854,.96,1.018,.948,1.237,1.128,1.429,1.523,1.511,1.748,1.429,1.917,1.237,1.945,.963,1.86,.799,1.635,.689,1.241],
"2-0":[.518,.485,.63,.485,.797,.577,.923,.687,.942,.834,.895,.963,.769,1.011,.63,.963,.518,.816,.462,.632],
"2-1":[.772,.595,1.018,.503,1.292,.577,1.484,.724,1.484,.889,1.347,.999,1.128,1.036,.881,.963,.689,.797,.635,.687],
"2-2":[1.105,.577,1.361,.529,1.703,.577,1.931,.724,1.92,.889,1.732,.999,1.504,1.025,1.219,.963,.991,.816,.934,.687],
"3-0":[.448,1.008,.532,.774,.699,.661,.867,.661,.923,.908,.881,1.241,.755,1.441,.63,1.508,.518,1.375,.448,1.141],
"3-1":[.58,1.008,.799,.741,1.155,.574,1.402,.674,1.484,1.008,1.347,1.308,1.073,1.508,.799,1.441,.635,1.241],
"3-2":[.877,1.108,1.133,.774,1.589,.608,1.874,.774,1.903,1.075,1.76,1.341,1.418,1.488,1.076,1.441,.905,1.241],
"3-3":[.474,1.075,.573,.774,.777,.608,.943,.708,1.017,1.041,.906,1.341,.721,1.541,.536,1.408],
"4-0":[.448,1.97,.532,1.542,.686,1.419,.853,1.664,.917,1.993,.895,2.582,.769,2.827,.616,2.741,.49,2.337],
"4-1":[.58,2.154,.799,1.603,1.128,1.358,1.402,1.603,1.484,2.092,1.429,2.582,1.237,2.888,.963,2.864,.689,2.521],
"4-2":[.877,2.031,1.076,1.603,1.504,1.419,1.846,1.664,1.914,2.092,1.789,2.643,1.504,2.864,1.162,2.766,.962,2.399],
"4-3":[.473,2.031,.61,1.542,.814,1.419,.98,1.787,1.036,2.154,.906,2.643,.721,2.925,.555,2.705],
"4-4":[.583,1.848,.771,1.358,1.207,1.542,1.508,2.092,1.475,2.582,1.173,2.827,.838,2.582,.624,2.154],
"5-0":[.434,1.909,.56,1.421,.741,1.524,.895,1.909,.9,2.681,.825,3.22,.699,3.13,.546,2.68,.448,2.166],
"5-1":[.58,2.038,.799,1.588,1.073,1.357,1.347,1.653,1.429,2.359,1.32,3.13,1.155,3.323,.909,3.001,.662,2.423],
"5-2":[.877,1.974,1.076,1.653,1.532,1.396,1.846,1.524,1.92,1.974,1.76,2.68,1.447,3.23,1.162,2.937,.962,2.359],
"5-3":[.473,2.102,.573,1.588,.758,1.396,.943,1.588,1.0,2.038,.925,2.809,.751,3.361,.592,2.937],
"5-4":[.57,1.652,.771,1.292,1.173,1.588,1.495,2.423,1.408,3.001,1.106,3.13,.805,2.68,.604,2.038],
"5-5":[1.301,1.781,1.588,1.396,2.212,1.524,2.834,2.423,2.647,3.001,2.149,3.284,1.588,2.744],
"6-0":[.44,.105,.532,.079,.741,.077,.895,.096,.914,.119,.853,.138,.672,.144,.518,.133],
"6-1":[.58,.105,.799,.077,1.128,.073,1.429,.096,1.473,.119,1.292,.144,1.018,.15,.717,.133],
"6-2":[.86,.105,1.133,.077,1.589,.073,1.903,.101,1.874,.129,1.618,.147,1.19,.138],
"6-3":[.474,.11,.573,.082,.906,.073,1.062,.101,.943,.129,.795,.147,.629,.152,.499,.133],
"6-4":[.583,.087,.805,.07,1.341,.096,1.521,.129,1.374,.144,.938,.138,.637,.11],
"6-5":[1.301,.101,1.651,.077,2.523,.096,2.859,.124,2.398,.147,1.651,.138],
"6-6":[1.266,.101,1.615,.073,2.907,.091,3.23,.119,2.907,.142,2.067,.147,1.421,.119],
"7-0":[.448,1.036,.532,.664,.713,.541,.895,.541,.951,.789,.881,1.201,.741,1.449,.616,1.515,.49,1.325],
"7-1":[.607,.995,.799,.623,1.155,.458,1.429,.582,1.511,.871,1.347,1.284,1.073,1.557,.772,1.367],
"7-2":[.877,1.036,1.076,.665,1.475,.5,1.817,.582,1.949,.871,1.789,1.284,1.475,1.515,1.162,1.408,.934,1.201],
"7-3":[.473,1.036,.573,.665,.777,.458,.98,.582,1.036,.871,.906,1.367,.721,1.59,.555,1.408],
"7-4":[.604,.953,.771,.582,1.073,.474,1.441,.665,1.521,1.036,1.341,1.367,1.039,1.557,.704,1.367],
"7-5":[1.376,1.036,1.651,.582,2.273,.474,2.834,.706,2.896,1.036,2.522,1.367,1.962,1.557,1.526,1.367],
"7-6":[1.356,1.036,1.679,.665,2.519,.541,3.333,.913,2.907,1.201,2.131,1.515,1.485,1.367],
"7-7":[.07,1.036,.089,.582,.108,.475,.141,.706,.15,.995,.127,1.408,.103,1.573,.08,1.367],
"8-0":[.434,.0213,.518,.0145,.713,.0201,.881,.0279,.909,.0414,.825,.0640,.741,.0704,.63,.0650,.518,.0461],
"8-1":[.58,.0258,.854,.0157,1.237,.0190,1.484,.0369,1.265,.0617,1.128,.0731,.909,.0617,.689,.0438],
"8-2":[.848,.0258,1.133,.0169,1.589,.0190,1.903,.0324,1.874,.0527,1.589,.0686,1.247,.0617,.905,.0414],
"8-3":[.462,.0324,.629,.0145,.832,.0180,1.0,.0369,.906,.0572,.751,.0695,.573,.0572,.481,.0414],
"8-4":[.583,.0348,.771,.0168,1.039,.0135,1.374,.0213,1.521,.0393,1.274,.0596,.972,.0713,.771,.0617,.604,.0462],
"8-5":[1.313,.0369,1.65,.0168,2.211,.0136,2.772,.0246,2.896,.0414,2.461,.0617,2.0,.0707,1.526,.0617],
"8-6":[1.292,.0348,1.615,.0168,2.067,.0127,2.907,.0225,3.204,.0393,2.777,.0572,2.131,.0677,1.55,.0572],
"8-7":[.066,.0348,.084,.0157,.108,.0124,.136,.0213,.15,.0393,.122,.0641,.103,.0713,.084,.0629],
"8-8":[.442,.0324,.558,.0169,.833,.0100,1.242,.0157,1.567,.0348,1.367,.0551,.992,.0635,.650,.0585,.492,.0462],
"9-0":[.434,.0368,.532,.0202,.741,.0225,.923,.0348,.895,.0638,.727,.0772,.574,.0659,.462,.0481],
"9-1":[.635,.0327,.689,.0246,1.073,.0190,1.429,.0270,1.484,.0481,1.237,.0727,1.073,.0862,.909,.0748,.744,.0526],
"9-2":[.934,.0368,1.076,.0225,1.475,.0190,1.874,.0279,1.903,.0461,1.646,.0727,1.475,.0793,1.276,.0748,1.048,.0481],
"9-3":[.481,.0368,.573,.0214,.721,.0158,.943,.0258,1.0,.0436,.888,.0727,.751,.0817,.629,.0748,.499,.0505],
"9-4":[.583,.0392,.771,.0202,1.005,.0151,1.34,.0279,1.454,.0436,1.307,.0659,1.005,.0799,.771,.0683,.624,.0526],
"9-5":[1.376,.0436,1.65,.0235,2.087,.0157,2.647,.0213,2.834,.0436,2.398,.0683,2.0,.0817,1.588,.0683,1.401,.0526],
"9-6":[1.382,.0368,1.615,.0213,2.067,.0164,2.907,.0258,3.204,.0436,2.777,.0638,2.106,.0805,1.615,.0659,1.421,.0504],
"9-7":[.07,.0368,.084,.0213,.106,.015,.141,.0279,.146,.0525,.127,.0727,.108,.0831,.084,.0683],
"9-8":[.442,.0347,.559,.0180,.808,.0127,1.208,.0234,1.508,.0436,1.433,.0594,1.133,.0772,.867,.0831,.675,.0727,.492,.0548],
"9-9":[.0114,.0279,.0159,.0178,.0274,.0143,.0477,.0214,.0638,.0416,.0614,.0571,.0501,.0772,.0420,.0817,.0274,.0727,.0183,.0550],
"10-0":[.49,1.789,.574,1.541,.672,1.444,.825,1.639,.937,2.226,.909,2.546,.727,2.643,.56,2.546,.49,2.18],
"10-1":[.689,1.933,.799,1.639,1.046,1.372,1.265,1.541,1.484,2.226,1.456,2.52,1.1,2.643,.799,2.52,.689,2.18],
"10-2":[1.019,1.887,1.133,1.594,1.39,1.444,1.703,1.691,1.931,2.226,1.846,2.617,1.532,2.656,1.133,2.52,1.008,2.18],
"10-3":[.499,2.03,.592,1.639,.703,1.32,.814,1.496,.962,1.985,1.0,2.474,.906,2.643,.629,2.669,.499,2.324],
"10-4":[.637,1.985,.771,1.594,1.006,1.352,1.274,1.639,1.475,2.128,1.441,2.474,1.207,2.669,.805,2.669,.637,2.324],
"10-5":[1.376,2.128,1.65,1.594,2.086,1.32,2.46,1.541,2.834,2.128,2.709,2.474,1.962,2.669,1.401,2.52],
"10-6":[1.356,2.128,1.615,1.594,2.131,1.352,2.648,1.594,3.165,2.226,3.165,2.376,2.777,2.546,2.325,2.669,1.615,2.643],
"10-7":[.07,2.082,.089,1.541,.108,1.339,.131,1.496,.145,2.128,.136,2.572,.108,2.669,.075,2.598],
"10-8":[.492,1.789,.650,1.418,.867,1.287,1.208,1.541,1.525,2.128,1.458,2.474,1.150,2.643,.742,2.669,.492,2.474,.484,2.128],
"10-9":[.0159,1.887,.0205,1.418,.0308,1.287,.0432,1.418,.0614,1.985,.0692,2.376,.0614,2.572,.0365,2.669,.0217,2.572,.0159,2.226],
"10-10":[.0198,2.082,.0259,1.541,.0349,1.385,.0518,1.541,.0743,1.933,.0801,2.206,.0698,2.474,.0472,2.669,.0268,2.598,.0201,2.376]
};
const innerContours = {
"0-0":[.574,.812,.672,.869,.769,1.037,.825,1.206,.783,1.263,.699,1.206,.616,1.066,.568,.897],
"1-0":[.63,1.185,.727,1.297,.825,1.494,.867,1.663,.825,1.703,.741,1.663,.658,1.523,.607,1.326],
"1-1":[1.018,1.224,1.155,1.326,1.292,1.551,1.32,1.692,1.237,1.759,1.1,1.72,.963,1.551,.909,1.354],
"2-0":[.63,.613,.741,.65,.825,.742,.831,.834,.755,.871,.658,.834,.588,.742,.58,.65],
"2-1":[.909,.669,1.128,.632,1.292,.742,1.292,.834,1.155,.889,.991,.853,.881,.761],
"2-2":[1.276,.687,1.532,.65,1.72,.742,1.703,.834,1.561,.878,1.361,.827,1.247,.742],
"3-0":[.56,.974,.672,.841,.769,.874,.797,1.041,.741,1.208,.644,1.275,.574,1.175],
"3-1":[.854,1.008,1.046,.808,1.237,.841,1.281,1.041,1.155,1.208,.963,1.275,.854,1.141],
"3-2":[1.19,1.075,1.418,.841,1.646,.841,1.72,1.008,1.589,1.175,1.361,1.241,1.202,1.175],
"3-3":[.61,.908,.721,.821,.851,.908,.869,1.108,.777,1.261,.647,1.241],
"4-0":[.56,2.031,.644,1.75,.755,1.848,.82,2.154,.755,2.423,.644,2.423,.574,2.276],
"4-1":[.854,2.093,.991,1.787,1.183,1.75,1.276,2.093,1.183,2.399,.991,2.46,.881,2.337],
"4-2":[1.19,2.031,1.39,1.762,1.618,1.811,1.703,2.093,1.589,2.399,1.361,2.46,1.219,2.276],
"4-3":[.61,2.031,.74,1.75,.869,1.97,.877,2.276,.777,2.497,.647,2.399],
"4-4":[.784,1.909,.972,1.664,1.207,1.97,1.253,2.215,1.106,2.423,.871,2.276],
"5-0":[.546,1.974,.616,1.742,.727,1.909,.778,2.23,.741,2.552,.658,2.642,.574,2.295],
"5-1":[.799,2.038,.991,1.717,1.183,1.909,1.237,2.23,1.128,2.552,.936,2.552,.826,2.295],
"5-2":[1.219,2.23,1.361,1.909,1.618,1.742,1.732,2.038,1.675,2.423,1.447,2.642,1.247,2.488],
"5-3":[.592,2.166,.721,1.781,.851,2.038,.851,2.359,.74,2.68,.629,2.488],
"5-4":[.771,1.909,.938,1.627,1.173,2.102,1.227,2.23,1.106,2.488,.905,2.295],
"5-5":[1.625,2.038,1.962,1.716,2.398,2.166,2.373,2.488,2.024,2.616,1.713,2.359],
"6-0":[.56,.105,.644,.088,.755,.096,.805,.11,.755,.124,.644,.127,.574,.116],
"6-1":[.826,.105,.991,.089,1.21,.096,1.281,.113,1.155,.129,.963,.127,.854,.116],
"6-2":[1.162,.105,1.418,.091,1.646,.101,1.692,.115,1.475,.13,1.247,.124],
"6-3":[.61,.105,.777,.087,.899,.105,.832,.124,.666,.131],
"6-4":[.784,.096,1.006,.084,1.274,.105,1.24,.121,1.006,.126,.825,.113],
"6-5":[1.65,.101,2.024,.085,2.398,.105,2.398,.119,1.962,.128,1.713,.116],
"6-6":[1.615,.101,2.003,.082,2.519,.101,2.519,.119,2.003,.129,1.68,.115],
"7-0":[.574,.954,.672,.706,.797,.748,.847,.913,.783,1.119,.672,1.185,.588,1.077],
"7-1":[.854,.912,1.018,.706,1.237,.748,1.308,.954,1.183,1.201,.963,1.218,.865,1.077],
"7-2":[1.219,.912,1.418,.706,1.675,.748,1.76,.954,1.618,1.16,1.39,1.185,1.236,1.036],
"7-3":[.61,.871,.74,.648,.869,.789,.869,.995,.74,1.218,.629,1.119],
"7-4":[.805,.954,1.006,.648,1.274,.789,1.274,1.036,1.039,1.202,.871,1.16],
"7-5":[1.688,.912,2.024,.665,2.398,.747,2.497,.954,2.149,1.185,1.775,1.119],
"7-6":[1.679,.912,2.067,.706,2.584,.789,2.674,.954,2.325,1.16,1.873,1.16],
"7-7":[.085,.995,.103,.681,.127,.871,.13,1.036,.108,1.202,.089,1.16],
"8-0":[.546,.0246,.658,.0279,.755,.0405,.727,.0494,.644,.0515,.546,.0426,.513,.0303],
"8-1":[.799,.0324,1.018,.0246,1.237,.0324,1.265,.0414,1.073,.0524,.881,.0438],
"8-2":[1.19,.0348,1.418,.0261,1.675,.0324,1.732,.0414,1.532,.0509,1.276,.0450],
"8-3":[.61,.0258,.74,.0246,.851,.0369,.814,.0471,.74,.0515,.629,.0450,.592,.0348],
"8-4":[.805,.0348,.938,.0246,1.173,.027,1.274,.0381,1.039,.0509,.838,.0450],
"8-5":[1.65,.0348,2.024,.0246,2.398,.0324,2.398,.0426,2.024,.0509,1.751,.0438],
"8-6":[1.641,.0336,2.003,.0240,2.454,.0279,2.584,.0381,2.131,.0500,1.744,.0414],
"8-7":[.084,.0348,.098,.0246,.122,.0270,.127,.0393,.108,.0506,.089,.0438],
"8-8":[.650,.0324,.808,.0225,.992,.0213,1.208,.0324,1.150,.0426,.933,.0471,.709,.0414],
"9-0":[.546,.0347,.63,.0270,.769,.0336,.811,.0436,.699,.0549,.574,.0469],
"9-1":[.881,.0392,1.073,.0291,1.237,.0368,1.237,.0436,1.073,.0594,.936,.0525],
"9-2":[1.219,.0359,1.418,.0291,1.703,.0347,1.732,.0461,1.532,.0582,1.333,.0481],
"9-3":[.61,.0368,.74,.0261,.851,.0368,.814,.0493,.729,.0570,.629,.0481],
"9-4":[.784,.0392,.972,.0270,1.207,.0324,1.253,.0436,1.073,.0549,.871,.0481],
"9-5":[1.688,.0392,2.024,.0261,2.398,.0347,2.398,.0436,2.049,.0558,1.775,.0481],
"9-6":[1.679,.0392,2.067,.0261,2.648,.0392,2.519,.0481,2.106,.0552,1.77,.0481],
"9-7":[.082,.0392,.103,.0261,.122,.0323,.127,.0436,.106,.0558,.089,.0481],
"9-8":[.634,.0368,.808,.0234,1.058,.0279,1.208,.0424,.992,.0525,.775,.0469],
"9-9":[.0217,.0323,.0295,.0246,.0411,.0291,.0489,.0436,.0456,.0526,.0374,.0552,.0283,.0481,.0229,.0416],
"10-0":[.588,2.083,.699,1.887,.811,2.083,.831,2.278,.713,2.441,.602,2.304],
"10-1":[.909,1.985,1.1,1.828,1.237,2.03,1.292,2.278,1.1,2.461,.909,2.304],
"10-2":[1.276,2.03,1.447,1.861,1.646,2.03,1.76,2.304,1.561,2.487,1.304,2.278],
"10-3":[.618,2.128,.703,1.848,.814,2.004,.869,2.226,.795,2.448,.703,2.48,.61,2.324],
"10-4":[.872,2.03,1.006,1.835,1.207,2.004,1.24,2.226,1.039,2.48,.871,2.376,.825,2.18],
"10-5":[1.65,2.082,1.962,1.835,2.335,2.03,2.424,2.226,2.024,2.5,1.713,2.376],
"10-6":[1.679,2.082,2.003,1.828,2.325,2.013,2.558,2.278,2.131,2.48,1.744,2.376],
"10-7":[.084,2.128,.103,1.907,.122,2.128,.125,2.324,.103,2.5,.086,2.376],
"10-8":[.708,1.932,.958,1.809,1.092,1.932,1.208,2.252,1.117,2.422,.867,2.461,.708,2.376,.667,2.18],
"10-9":[.0274,2.03,.0308,1.809,.0411,1.835,.0514,2.128,.0526,2.324,.0432,2.448,.0329,2.402,.0274,2.18],
"10-10":[.0292,2.083,.0394,1.809,.0518,2.004,.0581,2.206,.0518,2.448,.0415,2.5,.0313,2.402,.0280,2.226]
};

// Layout of the grid (figure geometry)
const gridLeft = 298, gridTop = 117.7, colStep = 393, rowStep = 396, axisW = 329, axisH = 328;
const svg = document.getElementById('chart');
const NS = 'http://www.w3.org/2000/svg';
const colLeft = c => gridLeft + colStep * c;
const rowTop = r => gridTop + rowStep * r;
function xScale(c, v) { const l = xLimits[c]; return colLeft(c) + (v - l[0]) / (l[1] - l[0]) * axisW; }
function yScale(r, v) { const l = yLimits[r + 1]; return rowTop(r) + axisH - (v - l[0]) / (l[1] - l[0]) * axisH; }
function node(tag, parent, attrs) {
  const e = document.createElementNS(NS, tag);
  for (const k in attrs) e.setAttribute(k, attrs[k]);
  parent.appendChild(e);
  return e;
}
function closedSpline(pts) {
  const n = pts.length;
  let d = 'M' + pts[0][0].toFixed(1) + ' ' + pts[0][1].toFixed(1);
  for (let i = 0; i < n; i++) {
    const p0 = pts[(i - 1 + n) % n], p1 = pts[i], p2 = pts[(i + 1) % n], p3 = pts[(i + 2) % n];
    const c1x = p1[0] + (p2[0] - p0[0]) / 6, c1y = p1[1] + (p2[1] - p0[1]) / 6;
    const c2x = p2[0] - (p3[0] - p1[0]) / 6, c2y = p2[1] - (p3[1] - p1[1]) / 6;
    d += 'C' + c1x.toFixed(1) + ' ' + c1y.toFixed(1) + ' ' + c2x.toFixed(1) + ' ' + c2y.toFixed(1) + ' ' + p2[0].toFixed(1) + ' ' + p2[1].toFixed(1);
  }
  return d + 'Z';
}
function mathLabel(parent, name, x, y, rotation, idx) {
  const lab = parameterLabels[idx];
  const g = node('g', parent, { transform: 'translate(' + x + ' ' + y + ') rotate(' + rotation + ')' });
  
  
  const isTau = lab[0] === 'τ';
  const sup = lab[1], sub = lab[2];
  const main = node('text', g, { x: 0, y: 0, 'font-size': 78, 'font-style': 'italic' });
  main.textContent = lab[0];
  
  
  if (sup) {
    const supDy = isTau ? -27 : (sup === 'mat' ? -30 : -39);
    const s = node('text', g, { x: isTau ? 47 : 24, y: supDy, 'font-size': 54.6 });
    s.textContent = sup;
    
    
  }
  if (sub) {
    const upright = sub === 'per';
    const attrs = { x: upright ? 24 : 20, y: upright ? 12 : 19, 'font-size': 54.6 };
    if (!upright) attrs['font-style'] = 'italic';
    const s = node('text', g, attrs);
    s.textContent = sub;
    
    
  }
}
const tickFont = 66.7;
function tickLabelWidth(str) {
  let w = 0;
  for (const ch of str) w += ch === '.' ? .318 * tickFont : .636 * tickFont;
  return w;
}

const defs = node('defs', svg, {});
const nRows = 11, nCols = 12;

for (let r = 0; r < nRows; r++) {
  for (let c = 0; c < nCols; c++) {
    const L = colLeft(c), T = rowTop(r);
    if (c > r) {
      const str = correlationRows[r][c - r - 1];
      const val = parseFloat(str);
      const k = Math.round(255 * (1 - Math.abs(val)));
      const fill = val >= 0 ? 'rgb(255,' + k + ',' + k + ')' : 'rgb(' + k + ',' + k + ',255)';
      const cell = node('g', svg, {});
      
      
      const rect = node('rect', cell, { x: L, y: T, width: axisW, height: axisH, fill: fill, stroke: '#000', 'stroke-width': 4.4 });
      
      
      const t = node('text', cell, { x: L + axisW / 2, y: T + 188, 'font-size': 82.5, 'text-anchor': 'middle' });
      t.textContent = str;
      
      
      continue;
    }
    const key = r + '-' + c;
    const panel = node('g', svg, {});
    
    
    const clip = node('clipPath', defs, { id: 'clip-' + key });
    node('rect', clip, { x: L, y: T, width: axisW, height: axisH });
    const bg = node('rect', panel, { x: L, y: T, width: axisW, height: axisH, fill: '#fff' });
    
    
    const body = node('g', panel, { 'clip-path': 'url(#clip-' + key + ')' });
    const levels = [[outerContours, '#000', 'outer-contour'], [middleContours, '#f00', 'middle-contour'], [innerContours, '#0000f0', 'inner-contour']];
    for (const lv of levels) {
      const flat = lv[0][key];
      if (!flat) continue;
      const pts = [];
      for (let i = 0; i + 1 < flat.length; i += 2) pts.push([xScale(c, flat[i]), yScale(r, flat[i + 1])]);
      const p = node('path', body, { d: closedSpline(pts), fill: 'none', stroke: lv[1], 'stroke-width': 12 });
      
      
    }
    const xs = sampleColumns[c], ys = sampleColumns[r + 1];
    const count = Math.min(xs.length, ys.length);
    for (let i = 0; i < count; i++) {
      const dot = node('circle', body, { cx: xScale(c, xs[i]).toFixed(1), cy: yScale(r, ys[i]).toFixed(1), r: 3.4, fill: '#000', 'fill-opacity': .55 });
      
      
    }
    const tx = xScale(c, truthValues[c]), ty = yScale(r, truthValues[r + 1]), u = 12.5;
    const xShape = [[-1,-2],[0,-1],[1,-2],[2,-1],[1,0],[2,1],[1,2],[0,1],[-1,2],[-2,1],[-1,0],[-2,-1]];
    const marker = node('polygon', body, { points: xShape.map(q => (tx + q[0] * u).toFixed(1) + ',' + (ty + q[1] * u).toFixed(1)).join(' '), fill: '#000' });
    
    
    const frame = node('rect', panel, { x: L, y: T, width: axisW, height: axisH, fill: 'none', stroke: '#000', 'stroke-width': 4.4 });
    
    
    for (const v of xTickValues[c]) {
      const x = xScale(c, v);
      const tick = node('line', panel, { x1: x, x2: x, y1: T + axisH, y2: T + axisH + 19.4, stroke: '#000', 'stroke-width': 4.4 });
      
      
    }
    for (const v of yTickValues[r + 1]) {
      const y = yScale(r, v);
      const tick = node('line', panel, { x1: L - 19.4, x2: L, y1: y, y2: y, stroke: '#000', 'stroke-width': 4.4 });
      
      
    }
  }
}

// Tick labels
for (let c = 0; c < 11; c++) {
  xTickValues[c].forEach((v, i) => {
    const str = xTickLabels[c][i];
    const w = (tickLabelWidth(str) + 48.7) * .707;
    const ax = xScale(c, v) - 3 + w / 2, ay = 4484;
    const t = node('text', svg, { x: 0, y: 0, transform: 'translate(' + ax.toFixed(1) + ' ' + ay + ') rotate(-45)', 'font-size': tickFont, 'text-anchor': 'end' });
    t.textContent = str;
    
    
  });
}
for (let r = 0; r < nRows; r++) {
  yTickValues[r + 1].forEach((v, i) => {
    const ay = yScale(r, v) + 22.4;
    const t = node('text', svg, { x: 0, y: 0, transform: 'translate(256 ' + ay.toFixed(1) + ') rotate(-45)', 'font-size': tickFont, 'text-anchor': 'end' });
    t.textContent = yTickLabels[r + 1][i];
    
    
  });
}

// Axis titles
const topTitleStarts = [null,793,1183,1567,1973,2367,2763,3141,3544,3938,4328,4708];
const topTitleVars = [null,2,3,4,5,6,7,8,9,10,11,0];
for (let c = 1; c < 12; c++) {
  const idx = topTitleVars[c];
  const y = parameterLabels[idx][0] === 'τ' ? 93 : 95;
  mathLabel(svg, 'column-title-' + c, topTitleStarts[c], y, 0, idx);
}
const bottomStarts = [373,780,1169,1565,1954,2358,2751,3142,3523,3929,4322];
const bottomBaselines = [4644,4656,4656,4656,4644,4658,4658,4647,4644,4658,4658];
for (let c = 0; c < 11; c++) mathLabel(svg, 'x-axis-title-' + c, bottomStarts[c], bottomBaselines[c], 0, c);
const leftStarts = [349,746,1133,1529,1935,2332,2713,3119,3506,3903,4299];
const leftBaselines = [95,95,98,103,93,93,93,103,93,93,98];
for (let r = 0; r < nRows; r++) mathLabel(svg, 'y-axis-title-' + r, leftBaselines[r], leftStarts[r], -90, r + 1);

// Scale-factor offset labels
const yOffsets = [[0,'1e\u22122'],[1,'1e\u22122'],[2,'1e6'],[4,'1e\u22122'],[5,'1e\u22122'],[10,'1e6']];
for (const o of yOffsets) {
  const t = node('text', svg, { x: 302, y: rowTop(o[0]) - 12.5, 'font-size': 55.6 });
  t.textContent = o[1];
  
  
}
const xOffsets = [[832,4574,'1e\u22122'],[1227,4574,'1e\u22122'],[1669,4617,'1e6'],[2405,4575,'1e\u22122'],[2800,4620,'1e\u22122']];
for (const o of xOffsets) {
  const t = node('text', svg, { x: o[0], y: o[1], 'font-size': 55.6 });
  t.textContent = o[2];
  
  
}
</script>
</body>
</html>
